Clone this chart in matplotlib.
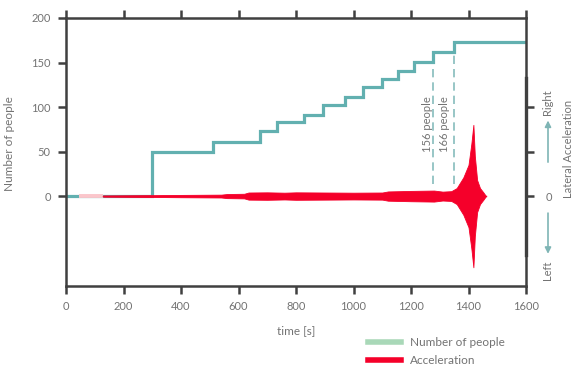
import matplotlib
matplotlib.use("Agg")
import matplotlib.pyplot as plt
from matplotlib.lines import Line2D
import matplotlib.transforms as mtransforms

plt.rcParams['font.family'] = ['Lato', 'DejaVu Sans']

# ---- data ----
people_t = [0, 300, 511, 675, 734, 828, 895, 970, 1034, 1098, 1156, 1210, 1278, 1350, 1600]
people_n = [0, 50, 61, 73, 83, 91, 102, 111, 122, 131, 141, 151, 162, 173, 173]

accel_t = [45, 130, 300, 400, 540, 560, 620, 635, 700, 760, 800, 1000, 1100, 1120, 1200,
           1280, 1310, 1340, 1359, 1382, 1400, 1410, 1417, 1422, 1430, 1440, 1452, 1460]
accel_up = [0.3, 0.6, 1.0, 1.3, 1.6, 2.3, 2.6, 4.0, 4.2, 3.8, 4.2, 3.8, 4.0, 5.2, 5.8,
            6.2, 5.0, 5.5, 9, 21, 35, 59, 80, 45, 18, 9, 4, 0.3]
accel_lo = [-0.3, -0.6, -1.0, -1.3, -1.6, -2.3, -2.6, -4.0, -4.2, -3.8, -4.2, -3.8, -4.0, -5.2, -5.8,
            -6.2, -5.0, -5.5, -9, -21, -35, -59, -80, -45, -18, -9, -4, -0.3]

onset_t = [1278, 1350]
onset_top = [151, 162]
onset_labels = ['156 people', '166 people']

xticks = [0, 200, 400, 600, 800, 1000, 1200, 1400, 1600]
yticks = [0, 50, 100, 150, 200]

# ---- style ----
teal = '#62b0b0'
red = '#f5002a'
spine_c = '#404040'
text_c = '#737373'

fig = plt.figure(figsize=(5.76, 3.67), dpi=100)
ax = fig.add_axes([66/576, 1-286/367, 460/576, 268/367])

ax.plot(people_t, people_n, drawstyle='steps-post', color=teal, lw=2.3, zorder=2,
        solid_joinstyle='miter')

# pale start of the acceleration trace, then red
ax.plot(accel_t[:2], [0, 0], color='#fbc6cb', lw=2.8, zorder=3, solid_capstyle='butt')
ax.plot([accel_t[1], accel_t[-1]], [0, 0], color=red, lw=1.0, zorder=3)
ax.fill_between(accel_t[1:], accel_lo[1:], accel_up[1:], color=red, lw=0.6,
                edgecolor=red, zorder=3)

# onset dashed lines
for t, top, lab, dx in zip(onset_t, onset_top, onset_labels, [-22, -34]):
    ax.vlines(t, 14, top, colors='#86bcbc', linestyles=(0, (5, 3)), lw=1.2, zorder=1)
    ax.text(t + dx, 81, lab, rotation=90, ha='center', va='center', color=text_c, fontsize=8)

ax.set_xlim(0, 1600)
ax.set_ylim(-101, 200)
ax.set_xticks(xticks)
ax.set_yticks(yticks)

for s in ax.spines.values():
    s.set_color(spine_c)
    s.set_linewidth(1.8)

ax.tick_params(axis='x', which='both', top=True, bottom=True, direction='out', length=6,
               width=1.8, color=spine_c, labelcolor=text_c, labelsize=8, pad=5)
ax.tick_params(axis='y', which='both', left=True, right=False, direction='out', length=6,
               width=1.8, color=spine_c, labelcolor=text_c, labelsize=8, pad=5)

ax.set_xlabel('time [s]', color=text_c, fontsize=8.5, labelpad=9)
ax.set_ylabel('Number of people', color=text_c, fontsize=8.5)
ax.yaxis.set_label_coords(-0.111, 0.53)

# right axis: lateral acceleration
ax2 = ax.twinx()
ax2.set_ylim(ax.get_ylim())
ax2.set_yticks([0, 50, 100])
ax2.set_yticklabels(['0', '', ''])
for k in ['left', 'top', 'bottom']:
    ax2.spines[k].set_visible(False)
ax2.spines['right'].set_color(spine_c)
ax2.spines['right'].set_linewidth(2.4)
ax2.spines['right'].set_bounds(-66, 133)
ax2.tick_params(axis='y', direction='out', length=6, width=1.8, color=spine_c,
                labelcolor=text_c, labelsize=8, pad=8)
ax2.set_ylabel('Lateral Acceleration', color=text_c, fontsize=8, rotation=90)
ax2.yaxis.set_label_coords(1.081, 0.51)

trans = mtransforms.blended_transform_factory(ax2.transAxes, ax2.transData)
xr = (548 - 66) / 460
ax2.text(xr, 106, 'Right', rotation=90, ha='center', va='center', color=text_c,
         fontsize=8, transform=trans)
ax2.text(xr, -83, 'Left', rotation=90, ha='center', va='center', color=text_c,
         fontsize=8, transform=trans)
ax2.annotate('', xy=(xr, 88), xytext=(xr, 35), xycoords=trans, textcoords=trans,
             arrowprops=dict(arrowstyle='-|>', color='#7fb5b5', lw=1.2, mutation_scale=9))
ax2.annotate('', xy=(xr, -68), xytext=(xr, -16), xycoords=trans, textcoords=trans,
             arrowprops=dict(arrowstyle='-|>', color='#7fb5b5', lw=1.2, mutation_scale=9))

handles = [Line2D([], [], color='#a9d8b8', lw=4),
           Line2D([], [], color=red, lw=4)]
fig.legend(handles, ['Number of people', 'Acceleration'], loc='upper left',
           bbox_to_anchor=(362/576, 1 - 331/367), frameon=False, fontsize=8.5,
           handlelength=2.8, handletextpad=0.8, labelspacing=0.6, borderpad=0,
           labelcolor=text_c)

fig.savefig('out.png', dpi=100)
